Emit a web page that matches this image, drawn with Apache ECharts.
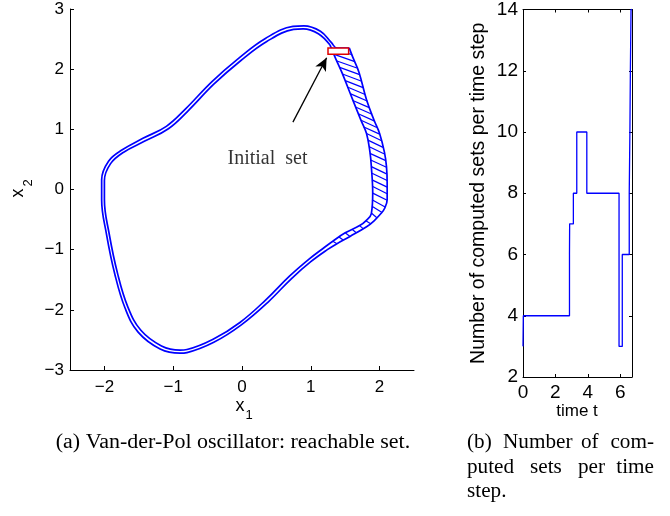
<!DOCTYPE html>
<html>
<head>
<meta charset="utf-8">
<script src="https://cdn.jsdelivr.net/npm/echarts@6/dist/echarts.min.js"></script>
<style>html,body{margin:0;padding:0;background:#fff}#c{width:670px;height:516px}</style>
</head>
<body>
<div id="c"></div>
<script>
// ---------- (a) reachable set of the Van-der-Pol oscillator ----------
// outer boundary of the reachable tube (x1, x2)
const reachOuter = [
  [1.56,2.35],[1.61,2.20],[1.70,1.95],[1.81,1.49],[1.92,1.15],[2.00,0.93],[2.07,0.62],[2.10,0.38],
  [2.11,0.10],[2.11,-0.17],[2.07,-0.32],[2.02,-0.40],[1.92,-0.52],[1.81,-0.62],[1.57,-0.78],[1.38,-0.90],
  [1.24,-1.00],[1.00,-1.20],[0.72,-1.48],[0.38,-1.87],[-0.01,-2.25],[-0.41,-2.54],[-0.80,-2.71],
  [-0.90,-2.72],[-1.19,-2.65],[-1.51,-2.37],[-1.70,-1.97],[-1.85,-1.40],[-1.97,-0.74],[-2.04,-0.17],
  [-2.04,0.16],[-1.94,0.47],[-1.74,0.66],[-1.44,0.85],[-1.10,1.05],[-0.82,1.34],[-0.44,1.79],
  [-0.05,2.18],[0.34,2.51],[0.74,2.71],[0.90,2.72],[1.14,2.63],[1.30,2.44],[1.38,2.35],[1.56,2.35]
];
// inner boundary of the reachable tube
const reachInner = [
  [1.28,2.40],[1.36,2.18],[1.45,1.95],[1.61,1.49],[1.73,1.15],[1.81,0.93],[1.86,0.62],[1.88,0.38],
  [1.90,-0.06],[1.88,-0.40],[1.80,-0.52],[1.71,-0.60],[1.50,-0.72],[1.32,-0.86],[1.20,-0.96],
  [0.97,-1.16],[0.69,-1.44],[0.35,-1.83],[-0.03,-2.21],[-0.42,-2.49],[-0.80,-2.66],[-0.90,-2.67],
  [-1.17,-2.60],[-1.47,-2.34],[-1.66,-1.95],[-1.81,-1.39],[-1.93,-0.74],[-2.00,-0.17],[-2.00,0.15],
  [-1.91,0.43],[-1.72,0.62],[-1.42,0.80],[-1.07,1.01],[-0.79,1.30],[-0.41,1.75],[-0.02,2.14],
  [0.36,2.46],[0.75,2.66],[0.89,2.67],[1.11,2.59],[1.28,2.40]
];
// edges of individual sets across the wide part of the tube: [x1in, x2in, x1out, x2out]
const setRungs = [
  [1.29,2.36,1.60,2.24],[1.33,2.25,1.63,2.13],[1.37,2.14,1.67,2.02],[1.42,2.03,1.71,1.91],
  [1.46,1.92,1.74,1.80],[1.50,1.81,1.77,1.69],[1.54,1.70,1.79,1.58],[1.58,1.59,1.82,1.47],
  [1.61,1.48,1.85,1.36],[1.65,1.37,1.89,1.25],[1.69,1.26,1.92,1.14],[1.73,1.15,1.96,1.03],
  [1.77,1.04,2.00,0.92],[1.81,0.93,2.03,0.81],[1.83,0.82,2.05,0.70],[1.85,0.71,2.07,0.59],
  [1.86,0.60,2.09,0.48],[1.87,0.49,2.10,0.37],[1.88,0.38,2.10,0.26],[1.89,0.27,2.11,0.15],
  [1.89,0.16,2.11,0.04],[1.90,0.05,2.11,-0.07],[1.90,-0.06,2.11,-0.18],[1.89,-0.17,2.08,-0.29],
  [1.89,-0.28,2.03,-0.38],[1.88,-0.39,1.96,-0.47],[1.80,-0.52,1.87,-0.57],[1.71,-0.60,1.76,-0.65],
  [1.60,-0.66,1.66,-0.72],[1.50,-0.72,1.57,-0.78],[1.41,-0.79,1.47,-0.84],[1.32,-0.86,1.38,-0.90]
];
// initial set box [x1min, x2min, x1max, x2max]
const initialSet = [[1.25, 2.25, 1.55, 2.35]];
const arrowFrom = [0.74, 1.12];
const arrowTo = [1.23, 2.19];
const annotationPos = [[0.37, 0.51]];
const annotationText = 'Initial  set';
const x1Ticks = [-2, -1, 0, 1, 2];

// ---------- (b) number of computed sets per time step ----------
const stepTimes  = [0, 0.02, 2.87, 2.88, 3.11, 3.32, 3.94, 5.93, 6.13, 6.56, 6.60, 6.63, 6.67, 6.73];
const stepCounts = [3, 4,    6,    7,    8,    10,   8,    3,    6,    8,    10,   12,   14,   14];
const timeTicks = [0, 2, 4, 6];

const sans = 'Liberation Sans, Arial, Helvetica, sans-serif';
const serif = 'Liberation Serif, Times New Roman, serif';
const blue = '#0000ff';
const minus = v => String(v).replace('-', '\u2212');

const chart = echarts.init(document.getElementById('c'), null, {renderer: 'canvas'});

const stepData = stepTimes.map((t, i) => [t, stepCounts[i]]);

function capText(x, y, text, align, sx) {
  return {type: 'text', x: x, y: y, scaleX: sx || 1.06,
          style: {text: text, font: '20px ' + serif, fill: '#000', align: align || 'left', verticalAlign: 'middle'}};
}

const option = {
  animation: false,
  backgroundColor: '#fff',
  grid: [
    {left: 70, top: 9, width: 344, height: 361},
    {left: 523, top: 7, width: 109, height: 370}
  ],
  xAxis: [
    {
      gridIndex: 0, type: 'value', min: -2.5, max: 2.5,
      axisLine: {show: true, onZero: false, lineStyle: {color: '#000', width: 1}},
      axisTick: {show: true, inside: true, length: 4, customValues: x1Ticks, lineStyle: {color: '#000'}},
      axisLabel: {show: true, customValues: x1Ticks, formatter: minus, color: '#000', fontSize: 17, fontFamily: sans, margin: 9},
      splitLine: {show: false}
    },
    {
      gridIndex: 1, type: 'value', min: 0, max: 6.73,
      axisLine: {show: true, onZero: false, lineStyle: {color: '#000', width: 1}},
      axisTick: {show: true, inside: true, length: 3, customValues: timeTicks, lineStyle: {color: '#000'}},
      axisLabel: {show: true, customValues: timeTicks, color: '#000', fontSize: 19, fontFamily: sans, margin: 6},
      splitLine: {show: false}
    },
    {
      gridIndex: 1, type: 'value', min: 0, max: 6.73, position: 'top',
      axisLine: {show: true, onZero: false, lineStyle: {color: '#000', width: 1}},
      axisTick: {show: true, inside: true, length: 3, customValues: timeTicks, lineStyle: {color: '#000'}},
      axisLabel: {show: false},
      splitLine: {show: false}
    }
  ],
  yAxis: [
    {
      gridIndex: 0, type: 'value', min: -3, max: 3, interval: 1,
      axisLine: {show: true, onZero: false, lineStyle: {color: '#000', width: 1}},
      axisTick: {show: true, inside: true, length: 4, lineStyle: {color: '#000'}},
      axisLabel: {color: '#000', fontSize: 17, fontFamily: sans, formatter: minus, margin: 6},
      splitLine: {show: false}
    },
    {
      gridIndex: 1, type: 'value', min: 2, max: 14, interval: 2,
      axisLine: {show: true, onZero: false, lineStyle: {color: '#000', width: 1}},
      axisTick: {show: true, inside: true, length: 3, lineStyle: {color: '#000'}},
      axisLabel: {color: '#000', fontSize: 19, fontFamily: sans, margin: 5},
      splitLine: {show: false},
      name: 'Number of computed sets per time step', nameLocation: 'middle', nameGap: 34,
      nameTextStyle: {color: '#000', fontSize: 19.5, fontFamily: sans}
    },
    {
      gridIndex: 1, type: 'value', min: 2, max: 14, interval: 2, position: 'right',
      axisLine: {show: true, onZero: false, lineStyle: {color: '#000', width: 1}},
      axisTick: {show: true, inside: true, length: 3, lineStyle: {color: '#000'}},
      axisLabel: {show: false},
      splitLine: {show: false}
    }
  ],
  series: [
    {
      type: 'line', xAxisIndex: 0, yAxisIndex: 0, data: reachOuter, smooth: 0.4,
      showSymbol: false, lineStyle: {color: blue, width: 1.7}, z: 3
    },
    {
      type: 'line', xAxisIndex: 0, yAxisIndex: 0, data: reachInner, smooth: 0.4,
      showSymbol: false, lineStyle: {color: blue, width: 1.7}, z: 3
    },
    {
      type: 'custom', xAxisIndex: 0, yAxisIndex: 0, data: setRungs,
      encode: {x: [0, 2], y: [1, 3]},
      renderItem: (params, api) => {
        const a = api.coord([api.value(0), api.value(1)]);
        const b = api.coord([api.value(2), api.value(3)]);
        return {type: 'line', shape: {x1: a[0], y1: a[1], x2: b[0], y2: b[1]},
                style: {stroke: blue, lineWidth: 1.2}};
      },
      z: 3,
      markLine: {
        silent: true, symbol: ['none', 'arrow'], symbolSize: [9, 13],
        lineStyle: {color: '#000', width: 1.3, type: 'solid'}, label: {show: false},
        data: [[{coord: arrowFrom}, {coord: arrowTo}]]
      }
    },
    {
      type: 'custom', xAxisIndex: 0, yAxisIndex: 0, data: initialSet,
      encode: {x: [0, 2], y: [1, 3]},
      renderItem: (params, api) => {
        const a = api.coord([api.value(0), api.value(3)]);
        const b = api.coord([api.value(2), api.value(1)]);
        return {type: 'rect', shape: {x: a[0], y: a[1], width: b[0] - a[0], height: b[1] - a[1]},
                style: {fill: '#fff', stroke: '#e00000', lineWidth: 1.5}};
      },
      z: 5
    },
    {
      type: 'scatter', xAxisIndex: 0, yAxisIndex: 0, data: annotationPos, symbolSize: 0,
      label: {show: true, position: 'inside', formatter: annotationText, color: '#000',
              fontSize: 20, fontFamily: serif}
    },
    {
      type: 'line', xAxisIndex: 1, yAxisIndex: 1, data: stepData, step: 'end',
      showSymbol: false, lineStyle: {color: blue, width: 1.3}, z: 3
    }
  ],
  graphic: [
    {type: 'text', x: 18, y: 193, rotation: Math.PI / 2,
     style: {text: 'x', font: '18px ' + sans, fill: '#000', align: 'center', verticalAlign: 'middle'}},
    {type: 'text', x: 28, y: 183, rotation: Math.PI / 2,
     style: {text: '2', font: '13px ' + sans, fill: '#000', align: 'center', verticalAlign: 'middle'}},
    {type: 'text', x: 240, y: 406,
     style: {text: 'x', font: '18px ' + sans, fill: '#000', align: 'center', verticalAlign: 'middle'}},
    {type: 'text', x: 249, y: 415,
     style: {text: '1', font: '13px ' + sans, fill: '#000', align: 'center', verticalAlign: 'middle'}},
    {type: 'text', x: 577, y: 411,
     style: {text: 'time t', font: '17px ' + sans, fill: '#000', align: 'center', verticalAlign: 'middle'}},
    capText(233, 443, '(a) Van-der-Pol oscillator: reachable set.', 'center', 1.1),
    capText(467, 443, '(b)'),
    capText(503, 443, 'Number'),
    capText(581, 443, 'of'),
    capText(654, 443, 'com-', 'right'),
    capText(467, 468, 'puted'),
    capText(530, 468, 'sets'),
    capText(578, 468, 'per'),
    capText(654, 468, 'time', 'right'),
    capText(467, 492, 'step.')
  ]
};
chart.setOption(option);
</script>
</body>
</html>
